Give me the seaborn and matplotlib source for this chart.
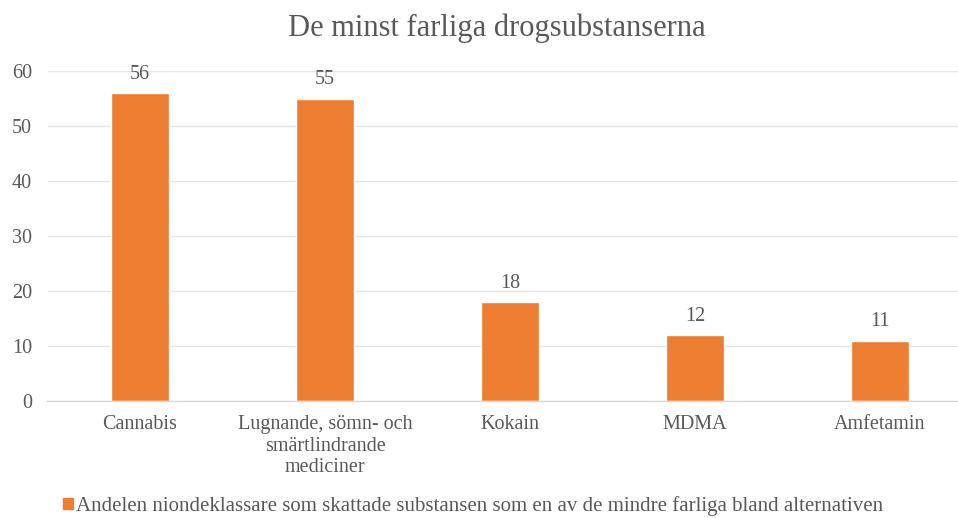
import matplotlib
matplotlib.use("Agg")
import matplotlib.pyplot as plt
import seaborn as sns
import pandas as pd
from matplotlib.patches import Patch

categories = ["Cannabis", "Lugnande, sömn- och\nsmärtlindrande\nmediciner", "Kokain", "MDMA", "Amfetamin"]
values = [56, 55, 18, 12, 11]
series_name = "Andelen niondeklassare som skattade substansen som en av de mindre farliga bland alternativen"
title = "De minst farliga drogsubstanserna"
yticks = [0, 10, 20, 30, 40, 50, 60]

sns.set_theme(style="white")
plt.rcParams['font.family'] = ['Liberation Serif', 'DejaVu Serif']

TEXT = "#595959"
BAR = "#ED7D31"
GRID = "#E6E6E6"
FS = 14.5

df = pd.DataFrame({"cat": categories, "val": values})

fig = plt.figure(figsize=(9.58, 5.18), dpi=100)
ax = fig.add_axes([47.5/958, (518-401)/518, 925/958, 330/518])
sns.barplot(data=df, x="cat", y="val", color=BAR, width=0.313, ax=ax, saturation=1)

ax.set_ylim(0, 60)
ax.set_yticks(yticks)
ax.set_yticklabels([str(t) for t in yticks], color=TEXT, fontsize=FS)
ax.set_xlim(-0.5, len(categories) - 0.5)
ax.tick_params(axis='x', colors=TEXT, labelsize=FS, length=0, pad=10)
ax.tick_params(axis='y', length=0, pad=11)
ax.set_xlabel("")
ax.set_ylabel("")
ax.yaxis.grid(True, color=GRID, linewidth=1)
ax.set_axisbelow(True)
for s in ["top", "right", "left"]:
    ax.spines[s].set_visible(False)
ax.spines["bottom"].set_color("#D9D9D9")
ax.spines["bottom"].set_linewidth(1)

for lbl in ax.get_xticklabels():
    lbl.set_color(TEXT)
    lbl.set_linespacing(1.2)

for p, v in zip(ax.patches, values):
    ax.annotate(str(v), (p.get_x() + p.get_width() / 2, p.get_height()),
                xytext=(0, 6.5), textcoords="offset points", ha="center", va="bottom",
                fontsize=FS, color=TEXT)

fig.text(497/958, 1 - 28/518, title, ha="center", va="center", fontsize=22, color=TEXT)

handle = Patch(facecolor=BAR, edgecolor=BAR)
fig.legend([handle], [series_name], loc="center", bbox_to_anchor=(473/958, 1 - 506/518),
           frameon=False, fontsize=15, labelcolor=TEXT, handlelength=0.5, handleheight=0.5,
           handletextpad=0.15, borderpad=0.1)

fig.savefig("out.png", dpi=100)
